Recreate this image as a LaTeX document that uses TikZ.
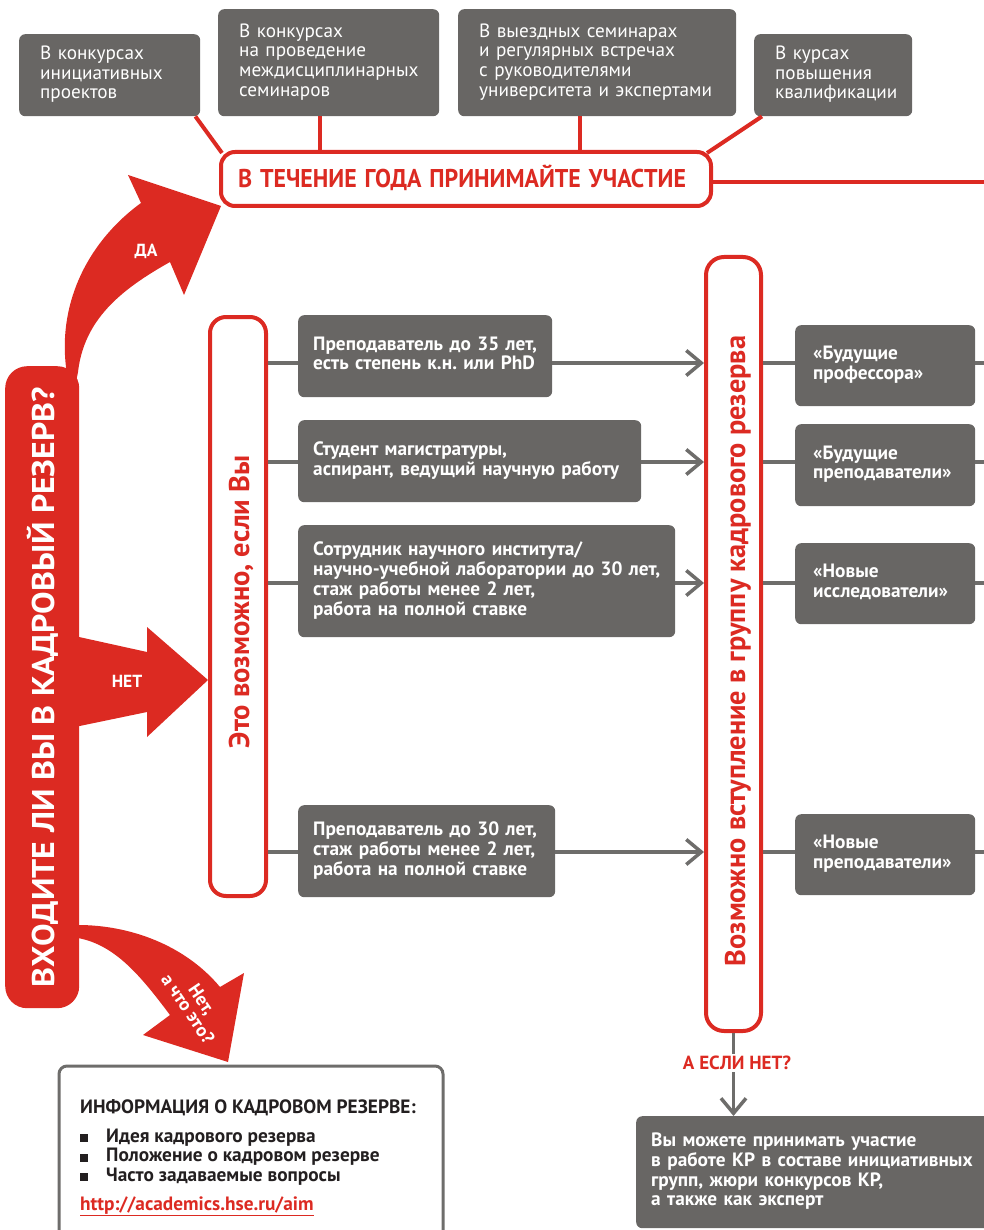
\documentclass[tikz,border=0pt]{standalone}
\usepackage{fontspec}
\setmainfont{PT Sans}
\frenchspacing
\usetikzlibrary{arrows.meta,calc}
\definecolor{hred}{HTML}{DC2A22}
\definecolor{hgray}{HTML}{686664}
\definecolor{lgray}{HTML}{6E6D6B}
\definecolor{dtext}{HTML}{231F20}
\newcommand\mylines[1]{\begin{tabular}[t]{@{}l@{}}#1\end{tabular}}
\newcommand\disp[3]{\resizebox{#1}{#2}{\bfseries\smash{#3}\vphantom{Н}}}
\tikzset{
  gbox/.style={fill=hgray, rounded corners=6pt, text=white, align=left, inner ysep=0pt, anchor=north west},
  topbox/.style={gbox, inner xsep=21pt, font=\fontsize{19.2}{19.6}\selectfont},
  condbox/.style={gbox, inner xsep=15pt, font=\bfseries\fontsize{19.3}{19.6}\selectfont},
  progbox/.style={gbox, inner xsep=18pt, font=\bfseries\fontsize{19.3}{19.6}\selectfont},
  redframe/.style={draw=hred, line width=4pt, fill=white, anchor=north west, inner sep=0pt},
  redline/.style={draw=hred, line width=4pt},
  gline/.style={draw=lgray, line width=3.5pt},
  garrow/.style={gline, -{Straight Barb[length=15pt,width=25pt]}},
  bigarrow/.style={fill=hred},
  arrtext/.style={text=white, font=\bfseries\fontsize{17.5}{17.5}\selectfont},
  infotext/.style={anchor=base west, inner sep=0pt, text=dtext, font=\bfseries\fontsize{19.3}{19.6}\selectfont},
}
\begin{document}
\begin{tikzpicture}[x=1pt,y=-1pt]
\useasboundingbox (0,0) rectangle (984,1230);

% ---------- top boxes ----------
\node[topbox, minimum width=181pt, minimum height=82pt, text width=139pt] (t1) at (19,34)
  {\mylines{В конкурсах\\инициативных\\проектов}};
\node[topbox, minimum width=221pt, minimum height=107pt, text width=179pt] (t2) at (218,9)
  {\mylines{В конкурсах\\на проведение\\междисциплинарных\\семинаров}};
\node[topbox, minimum width=278pt, minimum height=107pt, text width=236pt] (t3) at (458,9)
  {\mylines{В выездных семинарах\\и регулярных встречах\\с руководителями\\университета и экспертами}};
\node[topbox, minimum width=158pt, minimum height=82pt, text width=116pt] (t4) at (754,34)
  {\mylines{В курсах\\повышения\\квалификации}};

% ---------- year box ----------
\node[redframe, rounded corners=14pt, minimum width=490pt, minimum height=54pt,
      text width=456pt, inner xsep=17pt, align=left, text=hred] (yr) at (219,150)
  {\disp{448pt}{18pt}{В ТЕЧЕНИЕ ГОДА ПРИНИМАЙТЕ УЧАСТИЕ}};

\coordinate (c2) at (320,0);
\coordinate (c3) at (580,0);
\coordinate (redge) at (990,182);
\draw[redline] ([xshift=-5pt]t1.south east) -- ([shift={(3,3)}]yr.north west);
\draw[redline] (t2.south -| c2) -- (yr.north -| c2);
\draw[redline] (t3.south -| c3) -- (yr.north -| c3);
\draw[redline] ([xshift=8pt]t4.south west) -- ([shift={(-6,3)}]yr.north east);
\draw[redline] (yr.east |- redge) -- (redge);

% ---------- question box ----------
\node[fill=hred, rounded corners=22pt, minimum width=74pt, minimum height=642pt,
      anchor=north west, inner sep=0pt] (q) at (5,366) {};
\node[rotate=90, text=white, inner sep=0pt] (qt) at (43,687)
  {\disp{600pt}{22pt}{ВХОДИТЕ ЛИ ВЫ В КАДРОВЫЙ РЕЗЕРВ?}};

% ДА arrow
\fill[bigarrow] (66,392) -- (66,367) .. controls (58,300) and (90,240) .. (141,203)
  -- (128,175) -- (221,206) -- (184,295) -- (170,262)
  .. controls (120,290) and (84,320) .. (78,372) -- (74,392) -- cycle;
\node[arrtext] (da) at (146,251) {ДА};

% НЕТ arrow
\fill[bigarrow] (70,635) -- (147,652) -- (147,627) -- (208,680) -- (147,737) -- (147,712) -- (70,728) -- cycle;
\node[arrtext] (net) at (127,681) {НЕТ};

% Нет, а что это? arrow
\fill[bigarrow] (70,925) -- (78,925) .. controls (130,925) and (185,945) .. (220,987)
  -- (244,973) -- (228,1062) -- (143,1035) -- (170,1015)
  .. controls (140,975) and (115,945) .. (78,938) -- (70,938) -- cycle;
\node[text=white, rotate=-56, align=center, inner sep=0pt, font=\bfseries\fontsize{18.5}{17}\selectfont] (what) at (195,1004) {Нет,\\а что это?};

% ---------- info box ----------
\node[draw=lgray, line width=3pt, rounded corners=8pt, minimum width=384pt, minimum height=200pt,
      anchor=north west, inner sep=0pt] (ib) at (57.5,1064.5) {};
\node[infotext] (ih) at (80,1113) {ИНФОРМАЦИЯ О КАДРОВОМ РЕЗЕРВЕ:};
\node[infotext] (il) at (80,1142)
  {\mylines{\rule{8pt}{8pt}\hspace{18pt}Идея кадрового резерва\\
            \rule{8pt}{8pt}\hspace{18pt}Положение о кадровом резерве\\
            \rule{8pt}{8pt}\hspace{18pt}Часто задаваемые вопросы}};
\node[infotext, text=hred] (link) at (80,1210)
  {\underline{http://academics.hse.ru/aim}};

% ---------- possible frame ----------
\node[redframe, rounded corners=16pt, minimum width=56pt, minimum height=579pt] (e) at (208,315) {};
\node[rotate=90, text=hred, inner sep=0pt] (et) at (239,602)
  {\disp{293pt}{20pt}{Это возможно, если Вы}};

% ---------- membership frame ----------
\node[redframe, rounded corners=18pt, minimum width=55pt, minimum height=774pt] (v) at (704,255) {};
\node[rotate=90, text=hred, inner sep=0pt] (vt) at (735,651)
  {\disp{630pt}{20pt}{Возможно вступление в группу кадрового резерва}};

% ---------- condition boxes ----------
\node[condbox, minimum width=254pt, minimum height=82pt, text width=224pt] (A) at (298,315)
  {\mylines{Преподаватель до 35 лет,\\есть степень к.н. или PhD}};
\node[condbox, minimum width=343pt, minimum height=82pt, text width=313pt] (B) at (298,420)
  {\mylines{Студент магистратуры,\\аспирант, ведущий научную работу}};
\node[condbox, minimum width=377pt, minimum height=112pt, text width=347pt] (C) at (298,525)
  {\mylines{Сотрудник научного института/\\научно-учебной лаборатории до 30 лет,\\стаж работы менее 2 лет,\\работа на полной ставке}};
\node[condbox, minimum width=257pt, minimum height=92pt, text width=227pt] (D) at (298,805)
  {\mylines{Преподаватель до 30 лет,\\стаж работы менее 2 лет,\\работа на полной ставке}};

% ---------- programme boxes ----------
\node[progbox, minimum width=180pt, minimum height=81pt, text width=144pt] (P1) at (795,325)
  {\mylines{«Будущие\\профессора»}};
\node[progbox, minimum width=180pt, minimum height=82pt, text width=144pt] (P2) at (795,424)
  {\mylines{«Будущие\\преподаватели»}};
\node[progbox, minimum width=180pt, minimum height=81pt, text width=144pt] (P3) at (795,543)
  {\mylines{«Новые\\исследователи»}};
\node[progbox, minimum width=180pt, minimum height=81pt, text width=144pt] (P4) at (795,814)
  {\mylines{«Новые\\преподаватели»}};

% ---------- row connectors ----------
\coordinate (yA) at (990,363);
\coordinate (yB) at (990,462);
\coordinate (yC) at (990,583);
\coordinate (yD) at (990,852);
\foreach \c/\p/\yy in {A/P1/yA, B/P2/yB, C/P3/yC, D/P4/yD}{
  \draw[gline] (e.east |- \yy) -- (\c.west |- \yy);
  \draw[garrow] (\c.east |- \yy) -- (v.west |- \yy);
  \draw[gline] (v.east |- \yy) -- (\p.west |- \yy);
  \draw[gline] (\p.east |- \yy) -- (\yy);
}

% ---------- bottom ----------
\node[gbox, inner xsep=15pt, font=\bfseries\fontsize{19.3}{19.6}\selectfont,
      minimum width=370pt, minimum height=112pt, text width=340pt] (fb) at (636,1116)
  {\mylines{Вы можете принимать участие\\в работе КР в составе инициативных\\групп, жюри конкурсов КР,\\а также как эксперт}};
\node[text=hred, font=\bfseries\fontsize{19}{19}\selectfont, inner sep=2pt] (ifno) at (737,1063) {А ЕСЛИ НЕТ?};
\draw[gline] (v.south) -- (v.south |- ifno.north);
\draw[garrow] (v.south |- ifno.south) -- (v.south |- fb.north);
\end{tikzpicture}
\end{document}
